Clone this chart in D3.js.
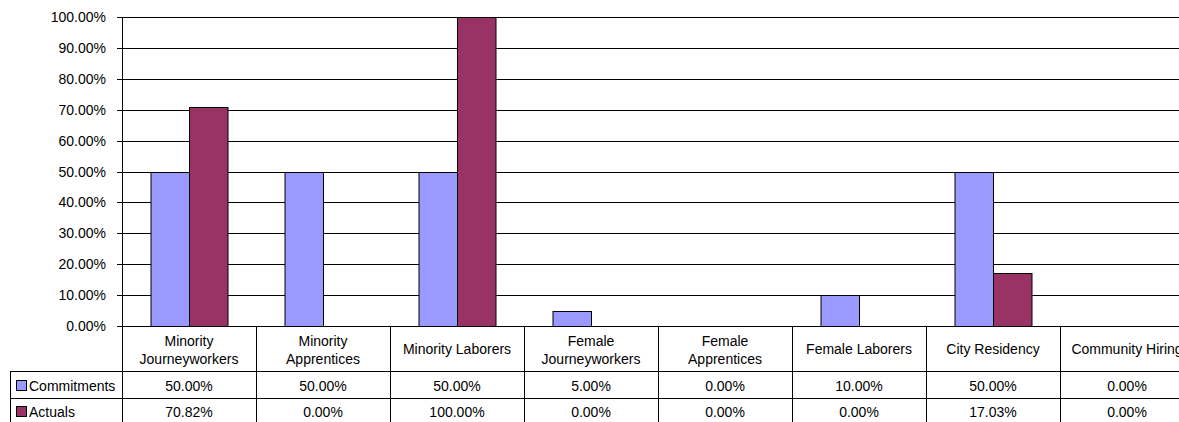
<!DOCTYPE html>
<html>
<head>
<meta charset="utf-8">
<script src="https://cdn.jsdelivr.net/npm/d3@7"></script>
<style>
    body { margin: 0; background: white; }
    text { font-family: "Liberation Sans", Arial, sans-serif; font-size: 14px; fill: #000; }
</style>
</head>
<body>
<script>
// Data
var categories = [
    "Minority\nJourneyworkers", "Minority\nApprentices", "Minority Laborers",
    "Female\nJourneyworkers", "Female\nApprentices", "Female Laborers",
    "City Residency", "Community Hiring"
];
var seriesNames = ["Commitments", "Actuals"];
var commitments = [0.50, 0.50, 0.50, 0.05, 0.00, 0.10, 0.50, 0.00];
var actuals = [0.7082, 0.00, 1.00, 0.00, 0.00, 0.00, 0.1703, 0.00];
var seriesColors = ["#9999ff", "#993366"];
var yTicks = [0, 0.1, 0.2, 0.3, 0.4, 0.5, 0.6, 0.7, 0.8, 0.9, 1.0];

var W = 1179, H = 422;
var left = 122, top_ = 17, bottom = 326, catW = 134;
var rowLabelBottom = 371, row1Bottom = 398, tableLeft = 10;

var svg = d3.select("body").append("svg")
    .attr("width", W)
    .attr("height", H);

var x = d3.scaleBand()
    .domain(categories)
    .range([left, left + catW * categories.length]);

var y = d3.scaleLinear()
    .domain([0, 1])
    .range([bottom, top_]);

var fmt = d3.format(".2%");
var crisp = function(v) { return Math.round(v) + 0.5; };

// gridlines + ticks
svg.selectAll(".grid")
    .data(yTicks)
    .enter()
    .append("line")
    .attr("x1", left - 5)
    .attr("x2", W)
    .attr("y1", function(d) { return crisp(y(d)); })
    .attr("y2", function(d) { return crisp(y(d)); })
    .attr("stroke", "#000")
    .attr("stroke-width", 1);

svg.selectAll(".ylab")
    .data(yTicks)
    .enter()
    .append("text")
    .attr("x", 106)
    .attr("y", function(d) { return y(d) + 5; })
    .attr("text-anchor", "end")
    .text(fmt);

// bars
var series = [commitments, actuals];
var barW = 38.5;
series.forEach(function(vals, s) {
    svg.selectAll(".bar" + s)
        .data(vals)
        .enter()
        .append("rect")
        .attr("x", function(d, i) { return x(categories[i]) + catW / 2 - barW + s * barW + 0.5; })
        .attr("y", function(d) { return crisp(y(d)); })
        .attr("width", barW)
        .attr("height", function(d) { return Math.round(y(0)) - Math.round(y(d)); })
        .attr("fill", seriesColors[s])
        .attr("stroke", "#000")
        .attr("stroke-width", 1)
        .style("display", function(d) { return d > 0 ? null : "none"; });
});

// y axis line
svg.append("line")
    .attr("x1", crisp(left)).attr("x2", crisp(left))
    .attr("y1", top_).attr("y2", H)
    .attr("stroke", "#000");

// data table lines
[rowLabelBottom, row1Bottom].forEach(function(yy) {
    svg.append("line")
        .attr("x1", tableLeft).attr("x2", W)
        .attr("y1", crisp(yy)).attr("y2", crisp(yy))
        .attr("stroke", "#000");
});
svg.append("line")
    .attr("x1", crisp(tableLeft)).attr("x2", crisp(tableLeft))
    .attr("y1", rowLabelBottom).attr("y2", H)
    .attr("stroke", "#000");
svg.selectAll(".vdiv")
    .data(categories.slice(1))
    .enter()
    .append("line")
    .attr("x1", function(d) { return crisp(x(d)); })
    .attr("x2", function(d) { return crisp(x(d)); })
    .attr("y1", bottom)
    .attr("y2", H)
    .attr("stroke", "#000");

// category labels
svg.selectAll(".catlab")
    .data(categories)
    .enter()
    .append("text")
    .attr("text-anchor", "middle")
    .each(function(d) {
        var lines = d.split("\n");
        var t = d3.select(this);
        var cx = x(d) + catW / 2;
        lines.forEach(function(l, j) {
            var by = lines.length == 1 ? 354 : 346 + j * 18;
            t.append("tspan").attr("x", cx).attr("y", by).text(l);
        });
    });

// values rows
var rowBase = [391, 417];
series.forEach(function(vals, s) {
    svg.selectAll(".val" + s)
        .data(vals)
        .enter()
        .append("text")
        .attr("x", function(d, i) { return x(categories[i]) + catW / 2; })
        .attr("y", rowBase[s])
        .attr("text-anchor", "middle")
        .text(fmt);

    // legend key
    svg.append("rect")
        .attr("x", 16.5)
        .attr("y", rowBase[s] - 10.5)
        .attr("width", 10)
        .attr("height", 10)
        .attr("fill", seriesColors[s])
        .attr("stroke", "#000")
        .attr("stroke-width", 1);
    svg.append("text")
        .attr("x", 29)
        .attr("y", rowBase[s])
        .text(seriesNames[s]);
});
</script>
</body>
</html>
